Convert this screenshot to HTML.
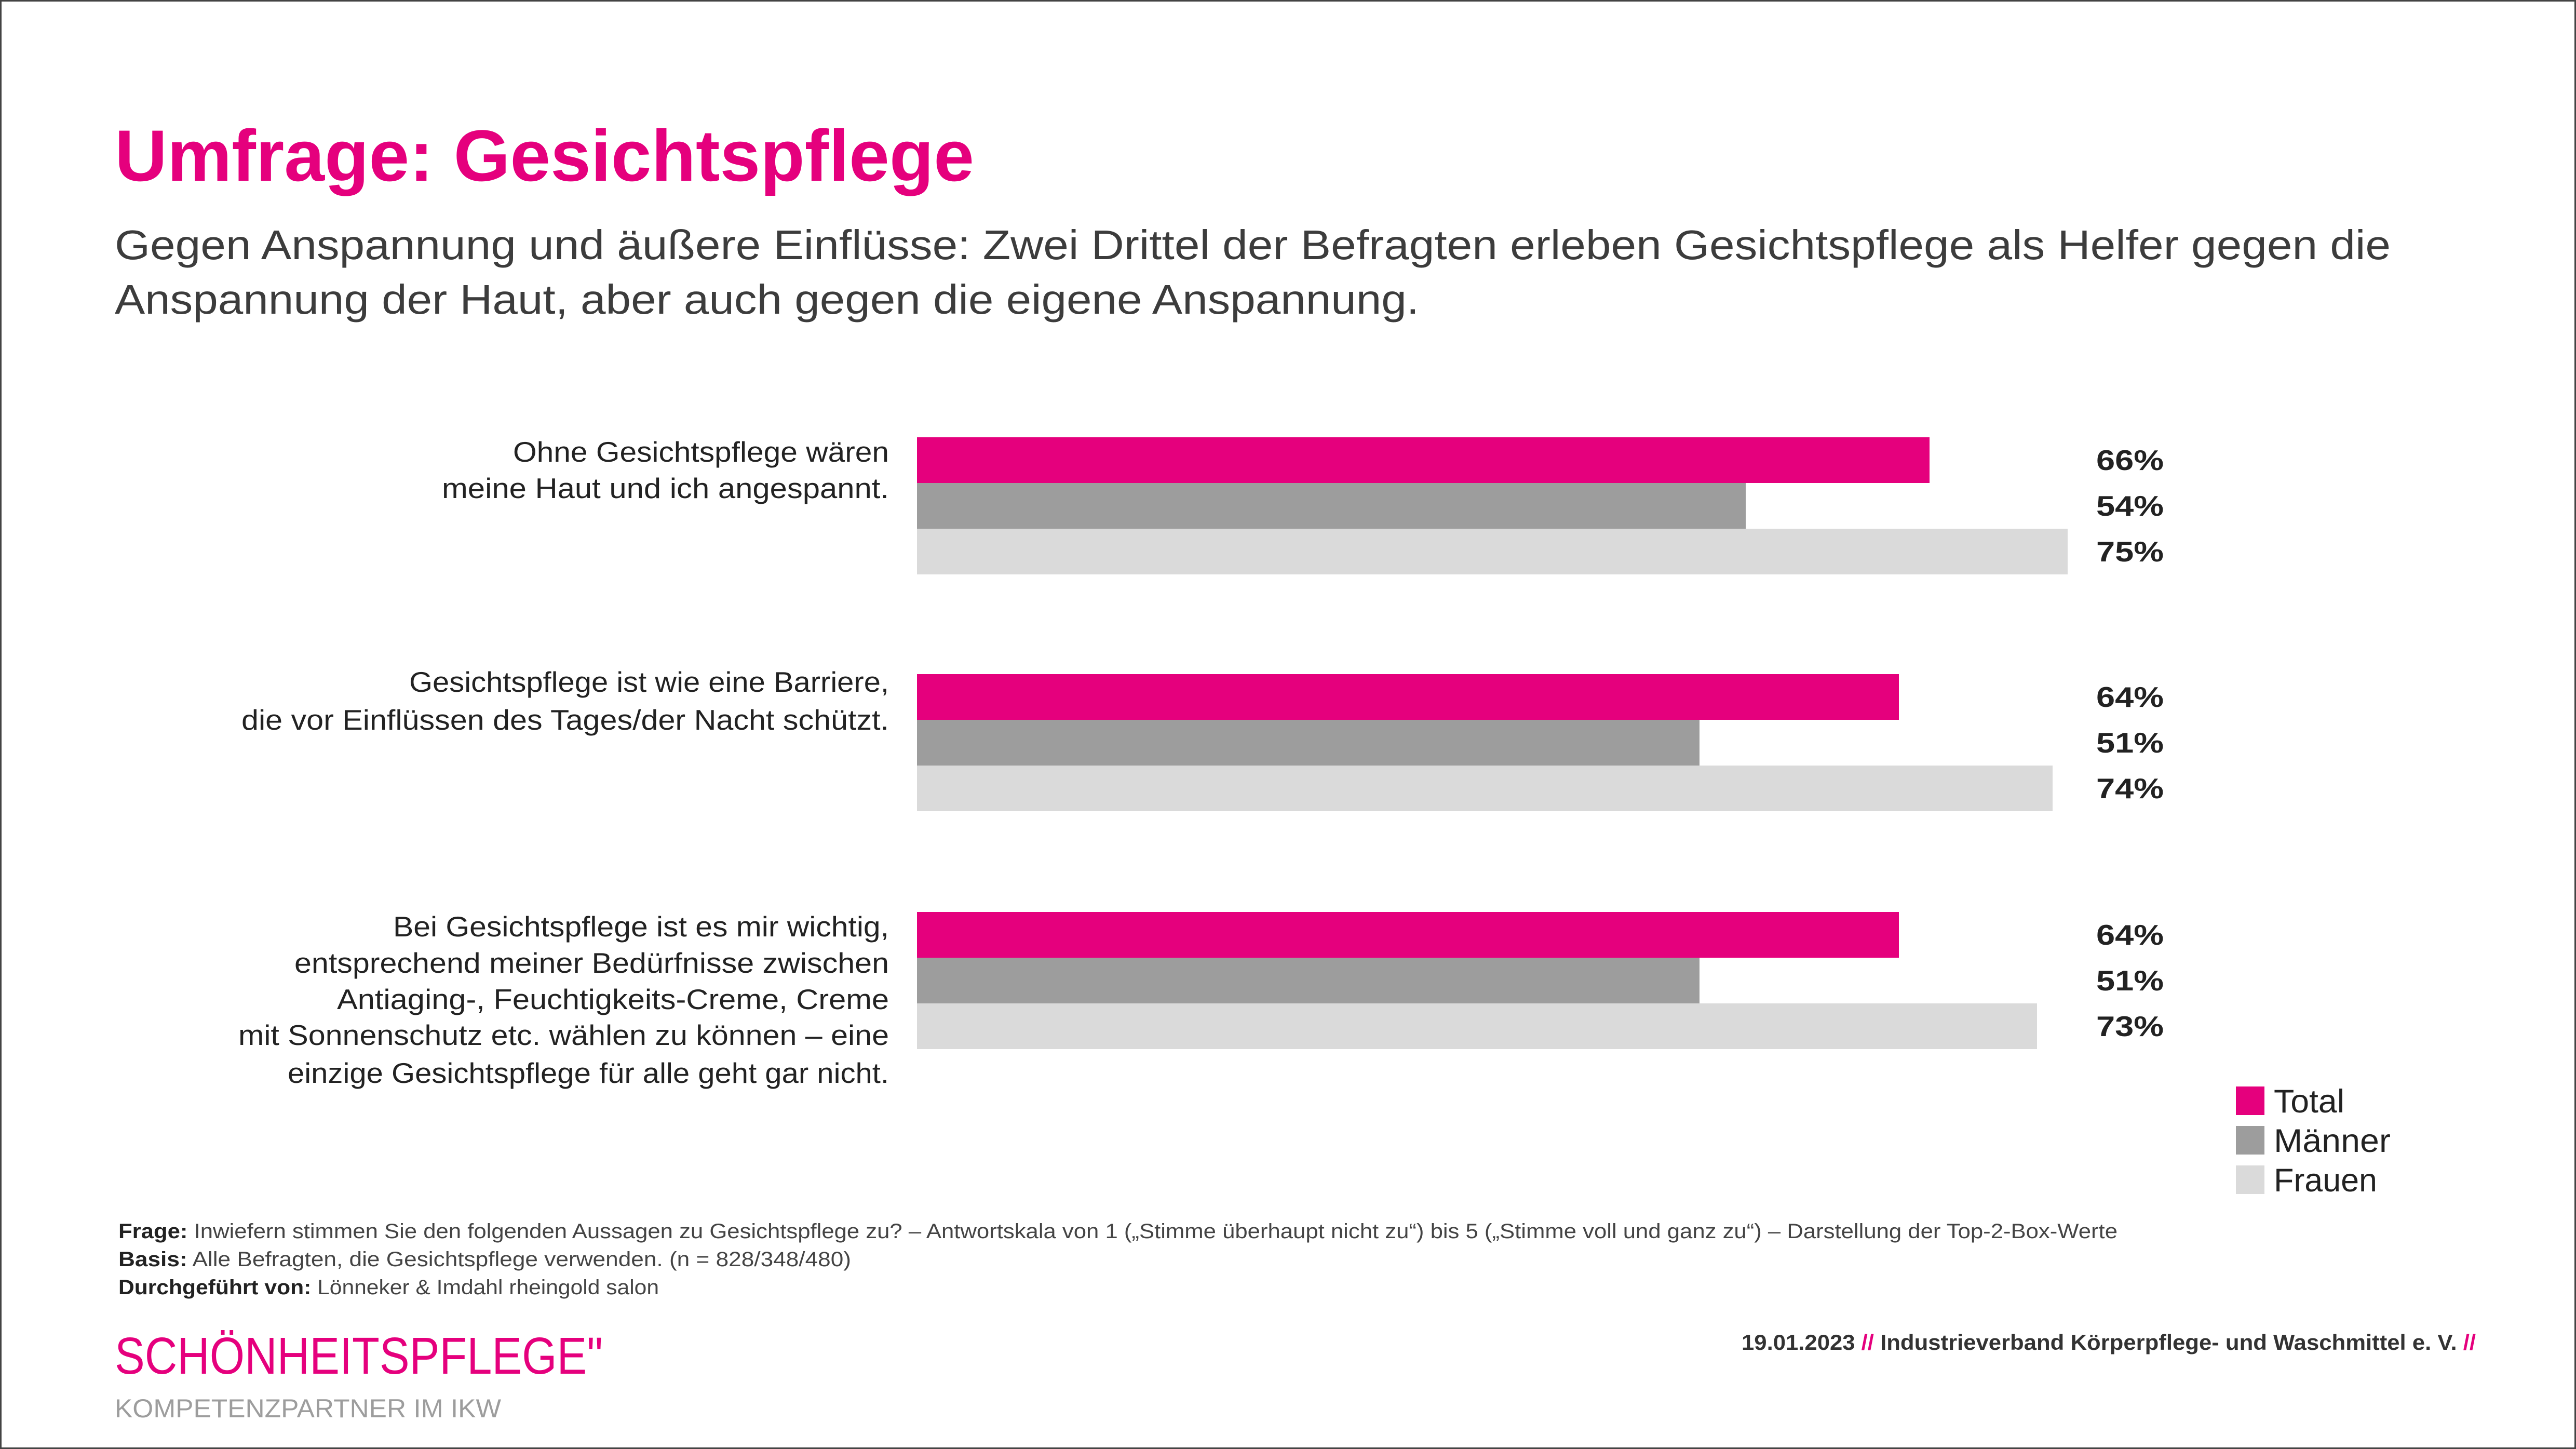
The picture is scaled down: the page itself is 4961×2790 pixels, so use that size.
<!DOCTYPE html>
<html><head><meta charset="utf-8"><style>html,body{margin:0;padding:0;background:#fff}svg{display:block}</style></head>
<body>
<svg width="4961" height="2790" viewBox="0 0 4961 2790" xmlns="http://www.w3.org/2000/svg" font-family="Liberation Sans, sans-serif">
<rect x="1.5" y="1.5" width="4958" height="2787" fill="#fff" stroke="#444" stroke-width="3"/>
<text x="221" y="348" font-size="140" font-weight="bold" fill="#E5007D" textLength="1655" lengthAdjust="spacingAndGlyphs">Umfrage: Gesichtspflege</text>
<g font-size="80" fill="#3c3c3c">
<text x="221" y="499" textLength="4383" lengthAdjust="spacingAndGlyphs">Gegen Anspannung und äußere Einflüsse: Zwei Drittel der Befragten erleben Gesichtspflege als Helfer gegen die</text>
<text x="221" y="604" textLength="2512" lengthAdjust="spacingAndGlyphs">Anspannung der Haut, aber auch gegen die eigene Anspannung.</text>
</g>
<g font-size="55" fill="#222" text-anchor="end">
<text x="1712" y="889" textLength="724" lengthAdjust="spacingAndGlyphs">Ohne Gesichtspflege wären</text>
<text x="1712" y="959" textLength="861" lengthAdjust="spacingAndGlyphs">meine Haut und ich angespannt.</text>
<text x="1712" y="1332" textLength="924" lengthAdjust="spacingAndGlyphs">Gesichtspflege ist wie eine Barriere,</text>
<text x="1712" y="1405" textLength="1247" lengthAdjust="spacingAndGlyphs">die vor Einflüssen des Tages/der Nacht schützt.</text>
<text x="1712" y="1803" textLength="955" lengthAdjust="spacingAndGlyphs">Bei Gesichtspflege ist es mir wichtig,</text>
<text x="1712" y="1873" textLength="1145" lengthAdjust="spacingAndGlyphs">entsprechend meiner Bedürfnisse zwischen</text>
<text x="1712" y="1943" textLength="1063" lengthAdjust="spacingAndGlyphs">Antiaging-, Feuchtigkeits-Creme, Creme</text>
<text x="1712" y="2012" textLength="1253" lengthAdjust="spacingAndGlyphs">mit Sonnenschutz etc. wählen zu können – eine</text>
<text x="1712" y="2085" textLength="1158" lengthAdjust="spacingAndGlyphs">einzige Gesichtspflege für alle geht gar nicht.</text>
</g>
<!-- bars: 29.55 px per % -->
<g>
<rect x="1766" y="842" width="1950" height="88" fill="#E5007D"/>
<rect x="1766" y="930" width="1596" height="88" fill="#9d9d9d"/>
<rect x="1766" y="1018" width="2216" height="88" fill="#dadada"/>
<rect x="1766" y="1298" width="1891" height="88" fill="#E5007D"/>
<rect x="1766" y="1386" width="1507" height="88" fill="#9d9d9d"/>
<rect x="1766" y="1474" width="2187" height="88" fill="#dadada"/>
<rect x="1766" y="1756" width="1891" height="88" fill="#E5007D"/>
<rect x="1766" y="1844" width="1507" height="88" fill="#9d9d9d"/>
<rect x="1766" y="1932" width="2157" height="88" fill="#dadada"/>
</g>
<g font-size="55" font-weight="bold" fill="#222">
<text x="4037" y="905" textLength="130" lengthAdjust="spacingAndGlyphs">66%</text>
<text x="4037" y="993" textLength="130" lengthAdjust="spacingAndGlyphs">54%</text>
<text x="4037" y="1081" textLength="130" lengthAdjust="spacingAndGlyphs">75%</text>
<text x="4037" y="1361" textLength="130" lengthAdjust="spacingAndGlyphs">64%</text>
<text x="4037" y="1449" textLength="130" lengthAdjust="spacingAndGlyphs">51%</text>
<text x="4037" y="1537" textLength="130" lengthAdjust="spacingAndGlyphs">74%</text>
<text x="4037" y="1819" textLength="130" lengthAdjust="spacingAndGlyphs">64%</text>
<text x="4037" y="1907" textLength="130" lengthAdjust="spacingAndGlyphs">51%</text>
<text x="4037" y="1995" textLength="130" lengthAdjust="spacingAndGlyphs">73%</text>
</g>
<rect x="4306" y="2092" width="55" height="55" fill="#E5007D"/>
<rect x="4306" y="2168" width="55" height="55" fill="#9d9d9d"/>
<rect x="4306" y="2244" width="55" height="55" fill="#dadada"/>
<g font-size="63" fill="#222">
<text x="4379" y="2142" textLength="136" lengthAdjust="spacingAndGlyphs">Total</text>
<text x="4379" y="2218" textLength="225" lengthAdjust="spacingAndGlyphs">Männer</text>
<text x="4379" y="2294" textLength="199" lengthAdjust="spacingAndGlyphs">Frauen</text>
</g>
<g font-size="40" fill="#444">
<text x="228" y="2384" textLength="3850" lengthAdjust="spacingAndGlyphs"><tspan font-weight="bold" fill="#222">Frage:</tspan> Inwiefern stimmen Sie den folgenden Aussagen zu Gesichtspflege zu? – Antwortskala von 1 („Stimme überhaupt nicht zu“) bis 5 („Stimme voll und ganz zu“) – Darstellung der Top-2-Box-Werte</text>
<text x="228" y="2438" textLength="1411" lengthAdjust="spacingAndGlyphs"><tspan font-weight="bold" fill="#222">Basis:</tspan> Alle Befragten, die Gesichtspflege verwenden. (n = 828/348/480)</text>
<text x="228" y="2492" textLength="1041" lengthAdjust="spacingAndGlyphs"><tspan font-weight="bold" fill="#222">Durchgeführt von:</tspan> Lönneker &amp; Imdahl rheingold salon</text>
</g>
<text x="221" y="2645" font-size="100" fill="#E5007D" textLength="940" lengthAdjust="spacingAndGlyphs">SCHÖNHEITSPFLEGE"</text>
<text x="221" y="2729" font-size="50" fill="#9d9d9d" textLength="744" lengthAdjust="spacingAndGlyphs">KOMPETENZPARTNER IM IKW</text>
<text x="3354" y="2599" font-size="42" font-weight="bold" fill="#333" textLength="1414" lengthAdjust="spacingAndGlyphs">19.01.2023 <tspan fill="#E5007D">//</tspan> Industrieverband Körperpflege- und Waschmittel e. V. <tspan fill="#E5007D">//</tspan></text>
</svg>
</body></html>
